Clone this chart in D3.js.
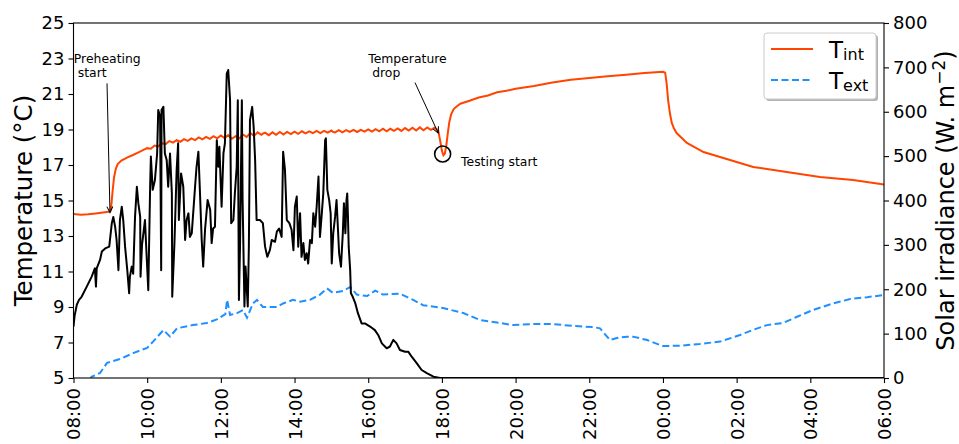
<!DOCTYPE html>
<html>
<head>
<meta charset="utf-8">
<script src="https://cdn.jsdelivr.net/npm/d3@7"></script>
<style>
  body { margin: 0; background: #fff; }
  text { font-family: "DejaVu Sans", sans-serif; }
</style>
</head>
<body>
<script>
// time is hours since 08:00
const timeTicks = [0, 2, 4, 6, 8, 10, 12, 14, 16, 18, 20, 22];
const timeLabels = ["08:00", "10:00", "12:00", "14:00", "16:00", "18:00", "20:00", "22:00", "00:00", "02:00", "04:00", "06:00"];
const tempTicks = [5, 7, 9, 11, 13, 15, 17, 19, 21, 23, 25];
const solarTicks = [0, 100, 200, 300, 400, 500, 600, 700, 800];

// interior temperature (°C)
const tInt = [
  [0, 14.24], [0.2, 14.2], [0.4, 14.22], [0.6, 14.27], [0.8, 14.32], [0.95, 14.36], [1.0, 14.4],
  [1.03, 14.8], [1.06, 15.5], [1.1, 16.3], [1.15, 16.8], [1.2, 17.05], [1.3, 17.25], [1.45, 17.42],
  [1.6, 17.55], [1.75, 17.7], [1.9, 17.85],
  [2.0, 17.95], [2.1, 17.92], [2.2, 18.10], [2.3, 18.05], [2.4, 18.22], [2.5, 18.18], [2.6, 18.35],
  [2.7, 18.26], [2.8, 18.40], [2.9, 18.31], [3.0, 18.46], [3.1, 18.36], [3.2, 18.50], [3.3, 18.40],
  [3.4, 18.55], [3.5, 18.44], [3.6, 18.58], [3.7, 18.47], [3.8, 18.62], [3.9, 18.50], [4.0, 18.66],
  [4.1, 18.52], [4.2, 18.68], [4.3, 18.48], [4.4, 18.62], [4.5, 18.50], [4.6, 18.72], [4.7, 18.58],
  [4.8, 18.80], [4.9, 18.64], [5.0, 18.84], [5.1, 18.70], [5.15, 18.78], [5.2, 18.82], [5.3, 18.68], [5.4, 18.84],
  [5.5, 18.70], [5.6, 18.86], [5.7, 18.72], [5.75, 18.80], [5.8, 18.86], [5.9, 18.74], [6.0, 18.88], [6.1, 18.76],
  [6.2, 18.90], [6.3, 18.78], [6.4, 18.90], [6.5, 18.80], [6.6, 18.92], [6.7, 18.80], [6.8, 18.92],
  [6.9, 18.82], [7.0, 18.94], [7.05, 18.86], [7.1, 18.84], [7.2, 18.96], [7.3, 18.84], [7.4, 18.96], [7.5, 18.86],
  [7.6, 18.98], [7.7, 18.86], [7.8, 18.98], [7.9, 18.88], [8.0, 19.00], [8.1, 18.88], [8.2, 19.02],
  [8.3, 18.90], [8.4, 19.04], [8.5, 18.90], [8.6, 19.04], [8.7, 18.92], [8.8, 19.06], [8.9, 18.92],
  [9.0, 19.08], [9.1, 18.94], [9.2, 19.10], [9.3, 18.94], [9.4, 19.12], [9.5, 18.96], [9.6, 19.12],
  [9.7, 18.98], [9.8, 19.10], [9.85, 19.02],
  [9.9, 18.95], [9.95, 18.4], [10.0, 17.8], [10.04, 17.55], [10.08, 17.65], [10.12, 18.1], [10.16, 18.8],
  [10.2, 19.4], [10.25, 19.85], [10.32, 20.15], [10.4, 20.3], [10.5, 20.45], [10.75, 20.62], [11.0, 20.8],
  [11.25, 20.92], [11.5, 21.1], [11.75, 21.18], [12.0, 21.3], [12.5, 21.45], [13.0, 21.65], [13.5, 21.8],
  [14.0, 21.9], [14.5, 22.0], [15.0, 22.08], [15.5, 22.18], [16.0, 22.25], [16.06, 22.2], [16.1, 21.6],
  [16.14, 20.66], [16.19, 19.9], [16.24, 19.37], [16.3, 19.05], [16.37, 18.8], [16.65, 18.24],
  [17.1, 17.73], [17.55, 17.45], [18.45, 16.89], [19.36, 16.6], [20.26, 16.33], [21.16, 16.15], [22, 15.9]
];

// exterior temperature (°C)
const tExt = [
  [0.45, 4.9], [0.49, 5.07], [0.72, 5.28], [0.91, 5.85], [1.26, 6.07], [1.62, 6.4], [2.0, 6.7],
  [2.16, 7.05], [2.44, 7.7], [2.62, 7.33], [2.81, 7.8], [3.24, 7.98], [3.62, 8.1], [3.89, 8.3],
  [4.12, 8.6], [4.17, 9.4], [4.25, 8.55], [4.44, 8.66], [4.60, 8.83], [4.71, 8.4], [4.87, 9.2],
  [4.98, 9.4], [5.14, 9.0], [5.52, 9.0], [5.69, 9.2], [5.96, 9.4], [6.15, 9.3], [6.42, 9.4],
  [6.69, 9.7], [6.88, 10.05], [7.04, 9.8], [7.32, 9.9], [7.51, 10.13], [7.69, 9.7], [7.97, 9.62],
  [8.19, 9.92], [8.40, 9.7], [8.86, 9.75], [9.22, 9.4], [9.49, 9.1], [10.03, 8.94], [10.58, 8.66],
  [11.03, 8.27], [11.58, 8.1], [11.93, 7.98], [12.47, 8.04], [13.01, 8.04], [13.56, 7.93],
  [14.10, 7.87], [14.29, 7.8], [14.56, 7.14], [14.75, 7.25], [15.02, 7.33], [15.19, 7.33],
  [15.57, 7.14], [16.0, 6.8], [16.46, 6.82], [17.0, 6.92], [17.55, 7.05], [18.09, 7.42], [18.43, 7.7],
  [18.82, 7.98], [19.26, 8.1], [19.64, 8.45], [20.07, 8.83], [20.62, 9.2], [21.08, 9.45],
  [21.54, 9.55], [22.0, 9.68]
];

// solar irradiance (W/m2)
const solar = [
  [0.00, 116], [0.03, 140], [0.09, 165], [0.15, 176], [0.22, 183], [0.36, 206], [0.49, 228], [0.58, 247],
  [0.61, 206], [0.63, 247], [0.72, 266], [0.77, 285], [0.86, 292], [0.97, 296], [1.04, 349], [1.08, 363],
  [1.13, 341], [1.17, 311], [1.22, 243], [1.26, 356], [1.31, 386], [1.35, 356], [1.40, 296], [1.46, 243],
  [1.51, 191], [1.53, 228], [1.58, 251], [1.62, 235], [1.67, 363], [1.72, 431], [1.76, 394], [1.81, 363],
  [1.82, 228], [1.86, 300], [1.94, 356], [1.99, 266], [2.03, 198], [2.08, 431], [2.10, 499], [2.15, 424],
  [2.21, 446], [2.27, 506], [2.30, 604], [2.35, 589], [2.38, 243], [2.39, 604], [2.44, 611], [2.48, 506],
  [2.53, 491], [2.57, 431], [2.62, 506], [2.67, 416], [2.68, 183], [2.74, 304], [2.80, 469], [2.84, 529],
  [2.86, 356], [2.92, 461], [2.98, 431], [3.03, 311], [3.07, 356], [3.12, 371], [3.16, 318], [3.21, 326],
  [3.30, 431], [3.34, 476], [3.39, 510], [3.43, 424], [3.48, 311], [3.52, 251], [3.57, 334], [3.64, 401],
  [3.71, 379], [3.75, 304], [3.79, 337], [3.84, 341], [3.89, 536], [3.93, 476], [3.96, 521], [4.02, 386],
  [4.07, 506], [4.11, 529], [4.16, 686], [4.20, 694], [4.25, 626], [4.28, 349], [4.34, 356], [4.38, 416],
  [4.43, 476], [4.46, 626], [4.49, 176], [4.52, 296], [4.57, 626], [4.59, 401], [4.64, 161], [4.67, 251],
  [4.73, 161], [4.76, 296], [4.79, 581], [4.82, 596], [4.85, 611], [4.89, 566], [4.93, 491], [4.97, 356],
  [5.06, 356], [5.14, 349], [5.20, 296], [5.26, 273], [5.33, 288], [5.38, 311], [5.47, 307], [5.52, 330],
  [5.58, 337], [5.65, 318], [5.69, 510], [5.74, 469], [5.79, 356], [5.86, 349], [5.92, 334], [5.97, 288],
  [6.01, 386], [6.06, 409], [6.10, 296], [6.15, 371], [6.19, 273], [6.24, 304], [6.28, 266], [6.33, 281],
  [6.37, 258], [6.42, 311], [6.47, 304], [6.51, 371], [6.56, 341], [6.60, 386], [6.65, 454], [6.69, 318],
  [6.74, 371], [6.78, 416], [6.83, 536], [6.85, 540], [6.89, 424], [6.94, 401], [6.98, 371], [7.01, 258],
  [7.05, 326], [7.10, 363], [7.14, 401], [7.21, 281], [7.26, 251], [7.31, 326], [7.34, 394], [7.38, 326],
  [7.41, 401], [7.43, 416], [7.45, 363], [7.47, 296], [7.51, 243], [7.53, 191], [7.58, 183], [7.65, 168],
  [7.72, 146], [7.82, 123], [7.91, 123], [8.05, 116], [8.18, 108], [8.27, 97], [8.37, 78], [8.50, 67],
  [8.59, 71], [8.68, 86], [8.77, 78], [8.86, 63], [9.00, 59], [9.09, 59], [9.18, 48], [9.32, 33],
  [9.45, 18], [9.59, 11], [9.77, 3], [9.95, 0], [22, 0]
];

// annotations, in data coordinates (hours, °C)
const notePreheat = { text: ["Preheating", " start"], at: [0.01, 22.75], from: [0.91, 21.6], to: [0.99, 14.32] };
const noteDrop = { text: ["Temperature", " drop"], at: [8.0, 22.75], from: [9.27, 21.64], to: [9.9, 18.8] };
const noteTest = { text: "Testing start", at: [10.52, 16.96], circle: [10.02, 17.62] };

const width = 959, height = 444;
const mLeft = 73.5, mRight = 884, mTop = 23, mBottom = 378;

const x = d3.scaleLinear().domain([0, 22]).range([mLeft, mRight]);
const yT = d3.scaleLinear().domain([5, 25]).range([mBottom, mTop]);
const yS = d3.scaleLinear().domain([0, 800]).range([mBottom, mTop]);

const svg = d3.select("body").append("svg")
  .attr("width", width)
  .attr("height", height);

const defs = svg.append("defs");
defs.append("clipPath").attr("id", "plot")
  .append("rect")
  .attr("x", mLeft).attr("y", mTop)
  .attr("width", mRight - mLeft).attr("height", mBottom - mTop);

defs.append("marker")
  .attr("id", "head")
  .attr("viewBox", "-7 -4 8 8")
  .attr("refX", 0).attr("refY", 0)
  .attr("markerWidth", 8).attr("markerHeight", 8)
  .attr("markerUnits", "userSpaceOnUse")
  .attr("orient", "auto")
  .append("path")
  .attr("d", "M-6,-3L0,0L-6,3")
  .attr("fill", "none")
  .attr("stroke", "#000")
  .attr("stroke-width", 1);

const lineT = d3.line().x(d => x(d[0])).y(d => yT(d[1]));
const lineS = d3.line().x(d => x(d[0])).y(d => yS(d[1]));

const plot = svg.append("g").attr("clip-path", "url(#plot)");

plot.append("path")
  .datum(tInt)
  .attr("d", lineT)
  .attr("fill", "none")
  .attr("stroke", "#ff4500")
  .attr("stroke-width", 2);

plot.append("path")
  .datum(tExt)
  .attr("d", lineT)
  .attr("fill", "none")
  .attr("stroke", "#1e90ff")
  .attr("stroke-width", 2)
  .attr("stroke-dasharray", "7,3.5");

plot.append("path")
  .datum(solar)
  .attr("d", lineS)
  .attr("fill", "none")
  .attr("stroke", "#000")
  .attr("stroke-width", 2)
  .attr("stroke-linejoin", "round");

// axes
const fontSize = "18px";

const gx = svg.append("g")
  .attr("transform", `translate(0,${mBottom})`)
  .call(d3.axisBottom(x).tickValues(timeTicks).tickFormat((d, i) => timeLabels[i]).tickSize(5).tickSizeOuter(0));
gx.selectAll("text")
  .attr("transform", "rotate(-90)")
  .attr("x", -10)
  .attr("y", 0)
  .attr("dy", "0.36em")
  .style("text-anchor", "end");

const gl = svg.append("g")
  .attr("transform", `translate(${mLeft},0)`)
  .call(d3.axisLeft(yT).tickValues(tempTicks).tickSize(5).tickPadding(4).tickSizeOuter(0));

const gr = svg.append("g")
  .attr("transform", `translate(${mRight},0)`)
  .call(d3.axisRight(yS).tickValues(solarTicks).tickSize(5).tickPadding(4).tickSizeOuter(0));

[gx, gl, gr].forEach(g => {
  g.select(".domain").remove();
  g.selectAll("text").style("font-size", fontSize).attr("fill", "#000").style("font-family", "DejaVu Sans");
  g.selectAll("line").attr("stroke", "#000").attr("stroke-width", 1.1);
});

// spines
svg.append("rect")
  .attr("x", mLeft).attr("y", mTop)
  .attr("width", mRight - mLeft).attr("height", mBottom - mTop)
  .attr("fill", "none")
  .attr("stroke", "#000")
  .attr("stroke-width", 1.1);

// axis titles
svg.append("text")
  .attr("transform", `translate(31.5,${(mTop + mBottom) / 2}) rotate(-90)`)
  .attr("text-anchor", "middle")
  .style("font-size", "24.5px")
  .text("Temperature (°C)");

const rt = svg.append("text")
  .attr("transform", `translate(953.5,${(mTop + mBottom) / 2}) rotate(-90)`)
  .attr("text-anchor", "middle")
  .style("font-size", "24px");
rt.append("tspan").text("Solar irradiance (W. m");
rt.append("tspan").attr("dy", "-0.5em").style("font-size", "17px").text("−2");
rt.append("tspan").attr("dy", "0.35em").text(")");

// annotations
function note(n) {
  const t = svg.append("g");
  t.append("text")
    .attr("x", x(n.at[0])).attr("y", yT(n.at[1]))
    .style("font-size", "12.4px")
    .style("white-space", "pre")
    .selectAll("tspan").data(n.text).join("tspan")
    .attr("x", x(n.at[0]))
    .attr("dy", (d, i) => i ? "1.13em" : 0)
    .text(d => d);
  t.append("line")
    .attr("x1", x(n.from[0])).attr("y1", yT(n.from[1]))
    .attr("x2", x(n.to[0])).attr("y2", yT(n.to[1]))
    .attr("stroke", "#000")
    .attr("stroke-width", 1)
    .attr("marker-end", "url(#head)");
}
note(notePreheat);
note(noteDrop);

svg.append("circle")
  .attr("cx", x(noteTest.circle[0])).attr("cy", yT(noteTest.circle[1]))
  .attr("r", 8)
  .attr("fill", "none")
  .attr("stroke", "#000")
  .attr("stroke-width", 1.6);

svg.append("text")
  .attr("x", x(noteTest.at[0])).attr("y", yT(noteTest.at[1]))
  .style("font-size", "12.4px")
  .text(noteTest.text);

// legend
const lg = svg.append("g").attr("transform", "translate(764,33)");
lg.append("rect")
  .attr("x", 2).attr("y", 2).attr("width", 112).attr("height", 66).attr("rx", 3)
  .attr("fill", "#b3b3b3");
lg.append("rect")
  .attr("x", 0).attr("y", 0).attr("width", 112).attr("height", 66).attr("rx", 3)
  .attr("fill", "#fff")
  .attr("stroke", "#cccccc")
  .attr("stroke-width", 1);

const legendItems = [
  { sub: "int", color: "#ff4500", dash: null },
  { sub: "ext", color: "#1e90ff", dash: "7,3.5" }
];
legendItems.forEach((d, i) => {
  const yy = 16 + i * 31;
  lg.append("line")
    .attr("x1", 7).attr("x2", 49).attr("y1", yy).attr("y2", yy)
    .attr("stroke", d.color).attr("stroke-width", 2)
    .attr("stroke-dasharray", d.dash);
  const t = lg.append("text")
    .attr("x", 65).attr("y", yy + 9)
    .style("font-size", "23px");
  t.append("tspan").text("T");
  t.append("tspan").attr("dy", "0.15em").style("font-size", "16px").text(d.sub);
});
</script>
</body>
</html>
